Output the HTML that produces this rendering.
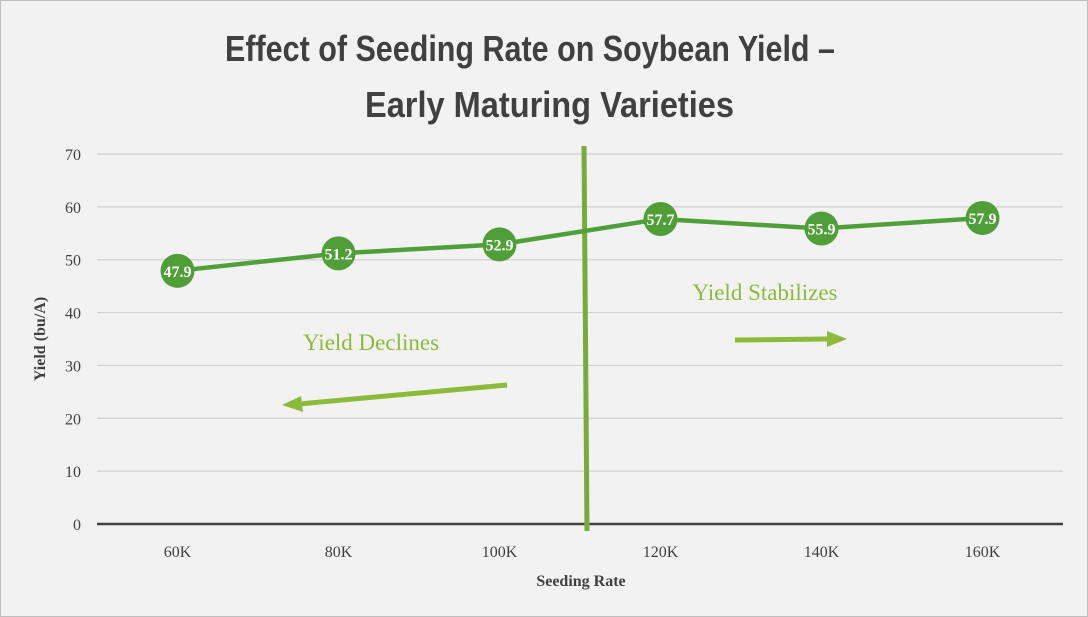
<!DOCTYPE html>
<html><head><meta charset="utf-8"><style>
body{margin:0;background:#f2f2f2;}
#wrap{width:1086px;height:615px;border:1px solid #bfbfbf;background:#f2f2f2;position:relative;}
</style></head><body>
<div id="wrap">
<svg id="chart" width="1086" height="615" style="position:absolute;left:0;top:0"></svg>
</div>
<script>
const categories=["60K","80K","100K","120K","140K","160K"];
const yields=[47.9,51.2,52.9,57.7,55.9,57.9];
const yTicks=[0,10,20,30,40,50,60,70];
const NS="http://www.w3.org/2000/svg";
const svg=document.getElementById('chart');
const x0=96,x1=1062,yBase=523,yTop=153;
function xs(i){return x0+(x1-x0)/categories.length*(i+0.5);}
function ys(v){return yBase-(yBase-yTop)*v/70;}
function mk(tag,attrs,parent){const e=document.createElementNS(NS,tag);for(const k in attrs)e.setAttribute(k,attrs[k]);(parent||svg).appendChild(e);return e;}
function txt(s,attrs){const e=mk('text',attrs);e.textContent=s;return e;}
let t;
t=txt("Effect of Seeding Rate on Soybean Yield –",{x:224,y:60,textLength:610,lengthAdjust:'spacingAndGlyphs','font-family':'"Liberation Sans Narrow","Liberation Sans",sans-serif','font-weight':'bold','font-size':36,fill:'#404040'});

t=txt("Early Maturing Varieties",{x:364,y:116,textLength:369,lengthAdjust:'spacingAndGlyphs','font-family':'"Liberation Sans Narrow","Liberation Sans",sans-serif','font-weight':'bold','font-size':36,fill:'#404040'});

yTicks.forEach(v=>{
  const l=mk('line',{x1:x0,x2:x1,y1:ys(v),y2:ys(v),stroke:v===0?'#404040':'#d0d0d0','stroke-width':v===0?2.5:1.2});
  
  const e=txt(String(v),{x:80,y:ys(v)+6,'text-anchor':'end','font-family':'"Liberation Serif",serif','font-size':16,fill:'#404040'});
  
});
categories.forEach((c,i)=>{
  const e=txt(c,{x:xs(i),y:556,'text-anchor':'middle','font-family':'"Liberation Serif",serif','font-size':16,fill:'#404040'});
  
});
t=txt("Seeding Rate",{x:580,y:585,'text-anchor':'middle','font-family':'"Liberation Serif",serif','font-weight':'bold','font-size':16,fill:'#404040'});

t=txt("Yield (bu/A)",{x:0,y:0,'text-anchor':'middle','font-family':'"Liberation Serif",serif','font-weight':'bold','font-size':16,fill:'#404040',transform:'translate(44,338) rotate(-90)'});

t=mk('line',{x1:583,x2:586,y1:145,y2:530,stroke:'#77ac3a','stroke-width':5});

const pts=yields.map((v,i)=>xs(i)+','+ys(v)).join(' ');
t=mk('polyline',{points:pts,fill:'none',stroke:'#50a03a','stroke-width':4.5});

yields.forEach((v,i)=>{
  const c=mk('circle',{cx:xs(i),cy:ys(v),r:17,fill:'#4f9e38'});
  
  const e=txt(v.toFixed(1),{x:xs(i),y:ys(v)+6,'text-anchor':'middle','font-family':'"Liberation Serif",serif','font-weight':'bold','font-size':16,fill:'#fff'});
  
});
const ac='#8cbb3a';
t=txt("Yield Declines",{x:370,y:349,'text-anchor':'middle','font-family':'"Liberation Serif",serif','font-size':23,fill:ac});

t=txt("Yield Stabilizes",{x:764,y:299,'text-anchor':'middle','font-family':'"Liberation Serif",serif','font-size':23,fill:ac});

t=mk('line',{x1:506,y1:384,x2:298,y2:403,stroke:ac,'stroke-width':5});

mk('polygon',{points:'281,404 300,395 302,411',fill:ac});
t=mk('line',{x1:734,y1:339,x2:828,y2:338,stroke:ac,'stroke-width':5});

mk('polygon',{points:'846,338 826,330 826,346',fill:ac});
</script>
</body></html>
